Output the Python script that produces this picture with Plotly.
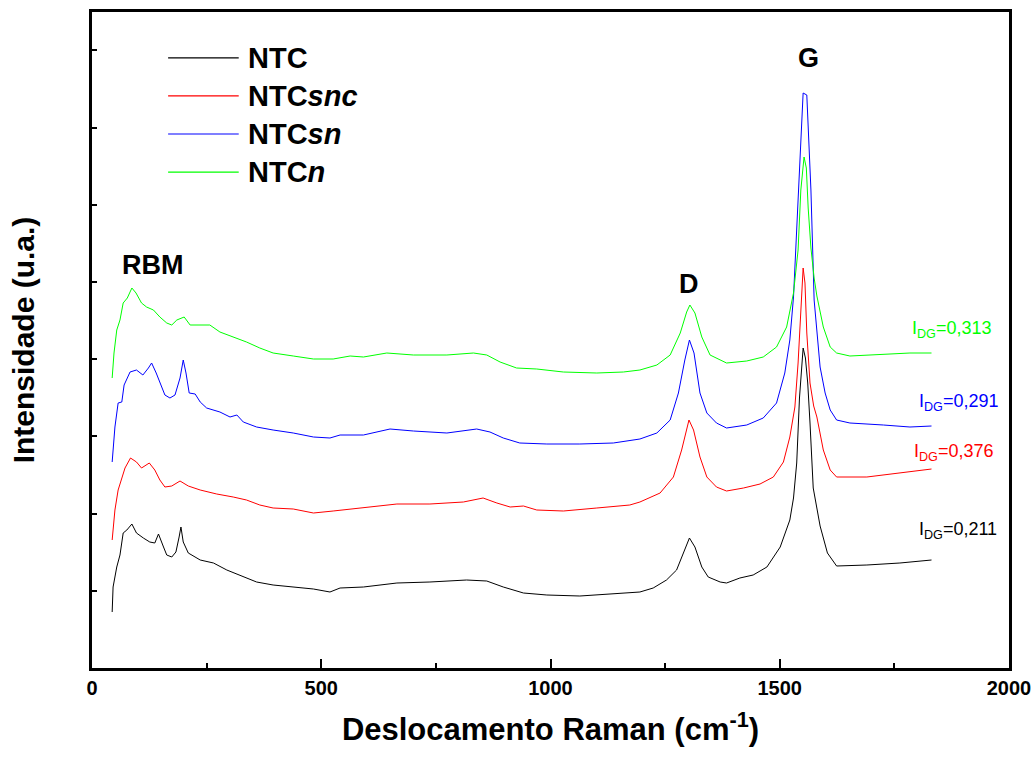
import plotly.graph_objects as go

# ---- data (Raman shift in cm^-1, intensity in arbitrary units) ----
ntc_x = [44, 46, 54, 61, 68, 76, 87, 97, 112, 126, 137, 145, 156, 163, 174, 183, 190, 194, 199, 210,
         236, 265, 294, 323, 359, 395, 439, 483, 519, 541, 592, 665, 737, 817, 861, 897, 941, 992, 1064, 1137,
         1195, 1224, 1253, 1275, 1290, 1303, 1315, 1330, 1344, 1370, 1384, 1413, 1442, 1472, 1501, 1522, 1530,
         1537, 1543, 1548, 1551, 1556, 1561, 1566, 1573, 1588, 1604, 1624, 1690, 1762, 1831]
ntc_y = [56, 81, 101, 113, 135, 138, 144, 135, 130, 126, 125, 134, 121, 113, 111, 116, 131, 141, 126, 115,
         108, 105, 98, 93, 86, 83, 81, 79, 76, 80, 81, 85, 86, 88, 87, 81, 75, 73, 72, 74,
         76, 80, 88, 98, 115, 130, 121, 101, 91, 86, 85, 90, 93, 101, 121, 148, 170,
         205, 270, 305, 320, 310, 285, 245, 180, 142, 115, 102, 103, 105, 108]

snc_x = [44, 50, 57, 65, 72, 84, 97, 108, 125, 137, 148, 159, 174, 192, 210, 236, 272, 308, 337, 366,
         395, 439, 483, 526, 592, 665, 737, 810, 853, 883, 912, 941, 970, 1028, 1101, 1173, 1195, 1239,
         1268, 1286, 1302, 1312, 1326, 1341, 1362, 1384, 1421, 1457, 1486, 1508, 1522, 1533, 1540, 1545,
         1551, 1555, 1559, 1566, 1574, 1581, 1595, 1610, 1624, 1690, 1762, 1831]
snc_y = [128, 158, 178, 191, 200, 210, 206, 200, 205, 198, 188, 181, 182, 187, 182, 178, 174, 171, 168, 163,
         160, 159, 155, 157, 160, 164, 164, 166, 170, 165, 161, 162, 158, 157, 160, 163, 166, 175,
         191, 218, 248, 238, 211, 191, 181, 177, 180, 184, 191, 206, 231, 261, 305, 350,
         400, 385, 335, 285, 262, 251, 218, 198, 191, 191, 195, 199]

sn_x = [44, 50, 57, 65, 70, 83, 97, 111, 123, 130, 140, 148, 159, 170, 181, 192, 199, 205, 212, 225,
        236, 250, 279, 301, 316, 330, 359, 395, 439, 483, 519, 541, 592, 650, 701, 774, 839, 868, 897, 933,
        992, 1064, 1137, 1195, 1232, 1261, 1279, 1293, 1303, 1313, 1326, 1341, 1362, 1384, 1428, 1464, 1493,
        1511, 1522, 1530, 1538, 1544, 1551, 1559, 1568, 1575, 1581, 1588, 1599, 1610, 1624, 1653, 1726, 1784, 1831]
sn_y = [206, 241, 265, 266, 283, 296, 298, 293, 300, 305, 295, 286, 273, 270, 273, 290, 308, 295, 275, 274,
        266, 260, 256, 251, 253, 246, 241, 238, 235, 231, 230, 233, 233, 239, 237, 235, 239, 236, 230, 225,
        224, 224, 225, 229, 235, 248, 275, 308, 328, 315, 275, 255, 245, 240, 243, 250, 265,
        295, 328, 371, 448, 518, 575, 573, 478, 368, 335, 301, 275, 258, 248, 245, 243, 241, 242]

n_x = [44, 48, 54, 61, 68, 77, 87, 96, 108, 119, 134, 148, 163, 174, 185, 201, 214, 236, 257, 279,
       308, 337, 366, 395, 439, 483, 526, 563, 592, 643, 701, 774, 832, 861, 890, 926, 970, 1028, 1101, 1159,
       1195, 1232, 1261, 1283, 1297, 1304, 1315, 1330, 1348, 1384, 1428, 1464, 1493, 1515, 1530, 1540, 1546,
       1553, 1558, 1562, 1568, 1575, 1581, 1588, 1595, 1610, 1624, 1653, 1726, 1784, 1831]
n_y = [290, 315, 338, 348, 365, 370, 380, 375, 365, 361, 358, 351, 345, 343, 348, 351, 343, 343, 343, 336,
       331, 326, 320, 315, 312, 309, 309, 312, 311, 315, 313, 313, 315, 313, 306, 300, 299, 296, 295, 296,
       298, 303, 313, 335, 356, 363, 355, 331, 313, 305, 307, 311, 321, 341, 375, 418, 478,
       511, 500, 460, 420, 390, 372, 355, 341, 321, 315, 312, 314, 315, 315]

series_names = ["NTC", "NTC<i>snc</i>", "NTC<i>sn</i>", "NTC<i>n</i>"]
series_colors = ["#000000", "#ff0000", "#0000ff", "#00ff00"]
series_x = [ntc_x, snc_x, sn_x, n_x]
series_y = [ntc_y, snc_y, sn_y, n_y]

ratio_labels = ["0,211", "0,376", "0,291", "0,313"]
ratio_x = [1799, 1789, 1799, 1784]
ratio_y = [138, 216, 266, 339]

band_labels = ["RBM", "D", "G"]
band_x = [134, 1302, 1562]
band_y = [403, 384, 610]

FONT = "Liberation Sans, Arial, Helvetica, sans-serif"

fig = go.Figure()
for nm, col, xs, ys in zip(series_names, series_colors, series_x, series_y):
    fig.add_trace(go.Scatter(x=xs, y=ys, mode="lines", name=nm,
                             line=dict(color=col, width=1), showlegend=False))

annotations = []
shapes = []
# custom legend (long line samples as in the reference)
leg_y = [0.930, 0.872, 0.814, 0.756]
for nm, col, ly in zip(series_names, series_colors, leg_y):
    shapes.append(dict(type="line", xref="paper", yref="paper", x0=0.083, x1=0.160, y0=ly, y1=ly,
                       line=dict(color=col, width=1.2)))
    annotations.append(dict(xref="paper", yref="paper", x=0.168, y=ly, xanchor="left", yanchor="middle",
                            text="<b>" + nm + "</b>", showarrow=False,
                            font=dict(family=FONT, size=29, color="#000000")))

for lab, col, xx, yy in zip(ratio_labels, series_colors, ratio_x, ratio_y):
    annotations.append(dict(x=xx, y=yy, xref="x", yref="y", xanchor="left", yanchor="middle",
                            text="I<sub>DG</sub>=" + lab, showarrow=False,
                            font=dict(family=FONT, size=18, color=col)))

for lab, xx, yy in zip(band_labels, band_x, band_y):
    annotations.append(dict(x=xx, y=yy, xref="x", yref="y", xanchor="center", yanchor="middle",
                            text="<b>" + lab + "</b>", showarrow=False,
                            font=dict(family=FONT, size=27, color="#000000")))

fig.update_layout(
    width=1036, height=769,
    margin=dict(l=92, r=27, t=12, b=101, autoexpand=False),
    paper_bgcolor="white", plot_bgcolor="white",
    font=dict(family=FONT, color="#000000"),
    annotations=annotations, shapes=shapes,
    showlegend=False,
)
fig.update_xaxes(
    range=[0, 2000], tick0=0, dtick=500, ticks="inside", ticklen=9, tickwidth=2, tickcolor="#000000",
    minor=dict(dtick=250, ticks="inside", ticklen=5, tickwidth=2, tickcolor="#000000"),
    showline=True, mirror=True, linewidth=3, linecolor="#000000",
    showgrid=False, zeroline=False, automargin=False,
    tickfont=dict(family=FONT, size=20, color="#000000", weight="bold"),
    title=dict(text="<b>Deslocamento Raman (cm<sup>-1</sup>)</b>", standoff=21,
               font=dict(family=FONT, size=31, color="#000000")),
)
fig.update_yaxes(
    range=[0, 656], tick0=0, dtick=77.2, ticks="inside", ticklen=5, tickwidth=2, tickcolor="#000000",
    showticklabels=False,
    showline=True, mirror=True, linewidth=3, linecolor="#000000",
    showgrid=False, zeroline=False, automargin=False,
    title=dict(text="<b>Intensidade (u.a.)</b>", standoff=46,
               font=dict(family=FONT, size=30, color="#000000")),
)

fig.write_html("out.html")
